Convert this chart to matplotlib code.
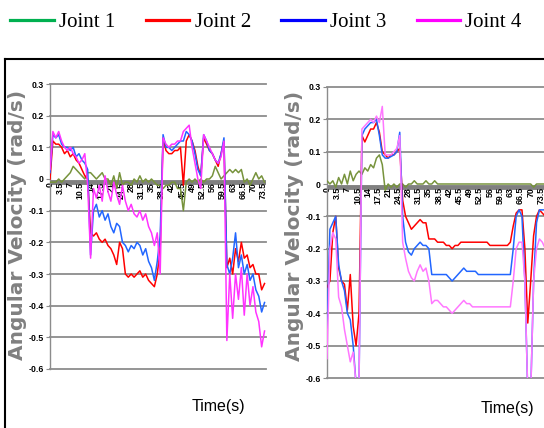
import numpy as np
import matplotlib.pyplot as plt
from matplotlib.lines import Line2D

# ---- data (1 s steps) ----
t_left = np.arange(0, 75)
left_j1 = [-0.01, -0.01, -0.01, 0.0, -0.01, 0.0, 0.01, 0.02, 0.04, 0.03,
           0.02, 0.01, 0.0, 0.02, 0.02, 0.01, 0.0, 0.01, 0.02, 0.0,
           0.0, -0.02, 0.01, -0.03, 0.02, -0.02, -0.01, -0.01, -0.02, 0.0,
           -0.01, 0.01, -0.01, 0.0, -0.01, 0.0, -0.01, -0.02, -0.02, -0.03,
           -0.02, -0.02, -0.01, -0.01, -0.03, -0.03, -0.1, -0.01, 0.0, -0.01,
           0.0, -0.01, 0.0, -0.01, 0.0, 0.0, 0.01, 0.04, 0.02, 0.0,
           0.01, 0.02, 0.03, 0.02, 0.03, 0.02, 0.03, -0.01, 0.0, -0.02,
           0.0, 0.02, 0.0, 0.01, -0.01]
left_j2 = [0.0, 0.12, 0.11, 0.11, 0.1, 0.08, 0.09, 0.07, 0.08, 0.06,
           0.05, 0.03, 0.01, 0.0, -0.17, -0.18, -0.17, -0.19, -0.2, -0.19,
           -0.21, -0.22, -0.24, -0.27, -0.2, -0.22, -0.3, -0.31, -0.3, -0.31,
           -0.3, -0.29, -0.31, -0.3, -0.32, -0.33, -0.34, -0.3, -0.22, 0.13,
           0.09, 0.08, 0.08, 0.09, 0.09, 0.1, -0.02, 0.12, 0.14, 0.12,
           0.09, 0.04, 0.01, 0.13, 0.11, 0.09, 0.08, 0.06, 0.04, 0.08,
           0.12, -0.28, -0.25, -0.3, -0.22, -0.26, -0.2, -0.25, -0.24, -0.28,
           -0.27, -0.3, -0.3, -0.35, -0.33]
left_j3 = [0.02, 0.14, 0.13, 0.14, 0.11, 0.1, 0.1, 0.09, 0.1, 0.07,
           0.08, 0.06, 0.05, 0.03, -0.24, -0.1, -0.08, -0.12, -0.1, -0.13,
           -0.11, -0.15, -0.17, -0.14, -0.15, -0.2, -0.21, -0.23, -0.21, -0.22,
           -0.2, -0.21, -0.24, -0.22, -0.26, -0.28, -0.32, -0.26, -0.18, 0.14,
           0.1, 0.1, 0.09, 0.1, 0.11, 0.12, 0.12, 0.15, 0.14, 0.12,
           0.08, 0.03, 0.01, 0.14, 0.12, 0.09, 0.08, 0.06, 0.05, 0.08,
           0.13, -0.27, -0.3, -0.25, -0.17, -0.28, -0.24, -0.3, -0.27, -0.32,
           -0.3, -0.35, -0.37, -0.42, -0.39]
left_j4 = [0.03, 0.15, 0.13, 0.15, 0.12, 0.1, 0.09, 0.1, 0.08, 0.07,
           0.05, 0.06, 0.08, -0.02, -0.25, -0.03, -0.06, -0.02, -0.07, 0.01,
           -0.04, -0.07, -0.01, -0.05, -0.08, -0.02, -0.07, -0.1, -0.08, -0.11,
           -0.12, -0.1, -0.13, -0.11, -0.15, -0.17, -0.21, -0.17, -0.3, 0.13,
           0.11, 0.1, 0.11, 0.11, 0.12, 0.12, 0.15, 0.16, 0.17, 0.1,
           0.05, 0.0, -0.03, 0.14, 0.12, 0.1, 0.08, 0.06, 0.05, 0.07,
           0.12, -0.51, -0.3, -0.44, -0.3, -0.38, -0.28, -0.43, -0.3, -0.4,
           -0.34, -0.42, -0.45, -0.53, -0.48]

t_right = np.arange(0, 76)
right_j1 = [0.01, 0.0, 0.01, -0.01, 0.02, 0.0, 0.03, 0.0, 0.04, 0.01,
            0.03, 0.04, 0.03, 0.05, 0.04, 0.06, 0.05, 0.08, 0.09, 0.06,
            -0.02, 0.0, -0.01, 0.0, -0.01, 0.0, 0.0, -0.01, 0.0, 0.0,
            0.01, 0.0, 0.0, 0.0, 0.01, 0.0, 0.0, 0.01, 0.0, 0.0,
            0.0, 0.0, 0.0, 0.0, 0.0, 0.0, 0.0, 0.0, 0.0, 0.0,
            0.0, 0.0, 0.0, 0.0, 0.0, 0.0, 0.0, 0.0, 0.0, 0.0,
            0.0, 0.0, 0.0, 0.0, 0.0, 0.0, 0.0, 0.0, 0.0, 0.0,
            0.0, -0.01, 0.0, 0.0, 0.0, 0.0]
right_j2 = [-0.32, -0.3, -0.15, -0.1, -0.26, -0.3, -0.31, -0.39, -0.28, -0.44,
            -0.5, -0.4, 0.15, 0.13, 0.15, 0.17, 0.17, 0.19, 0.16, 0.1,
            0.09, 0.08, 0.09, 0.09, 0.1, 0.11, -0.05, -0.1, -0.12, -0.14,
            -0.13, -0.12, -0.11, -0.12, -0.12, -0.17, -0.17, -0.17, -0.18, -0.18,
            -0.18, -0.19, -0.19, -0.2, -0.19, -0.19, -0.18, -0.18, -0.18, -0.18,
            -0.18, -0.18, -0.18, -0.18, -0.18, -0.18, -0.19, -0.19, -0.19, -0.19,
            -0.19, -0.19, -0.19, -0.18, -0.13, -0.09, -0.08, -0.08, -0.2, -0.43,
            -0.3, -0.16, -0.1, -0.08, -0.09, -0.1]
right_j3 = [-0.45, -0.14, -0.12, -0.1, -0.25, -0.3, -0.33, -0.4, -0.42, -0.5,
            -0.62, -0.62, 0.15, 0.17, 0.18, 0.19, 0.19, 0.2, 0.15, 0.09,
            0.08, 0.08, 0.085, 0.09, 0.1, 0.16, -0.1, -0.18, -0.21, -0.22,
            -0.2, -0.19, -0.18, -0.19, -0.19, -0.2, -0.28, -0.28, -0.28, -0.28,
            -0.28, -0.28, -0.29, -0.3, -0.29, -0.28, -0.27, -0.26, -0.27, -0.27,
            -0.27, -0.27, -0.28, -0.28, -0.28, -0.28, -0.28, -0.28, -0.28, -0.28,
            -0.28, -0.28, -0.28, -0.28, -0.2, -0.1, -0.08, -0.1, -0.3, -0.65,
            -0.65, -0.3, -0.12, -0.08, -0.08, -0.08]
right_j4 = [-0.54, -0.2, -0.15, -0.17, -0.35, -0.38, -0.45, -0.5, -0.55, -0.52,
            -0.62, -0.62, 0.17, 0.18, 0.19, 0.2, 0.19, 0.21, 0.19, 0.24,
            0.09, 0.09, 0.09, 0.1, 0.11, 0.15, -0.18, -0.23, -0.27, -0.29,
            -0.3, -0.27, -0.25, -0.27, -0.26, -0.3, -0.37, -0.36, -0.36, -0.37,
            -0.38, -0.38, -0.39, -0.4, -0.39, -0.38, -0.37, -0.36, -0.37, -0.37,
            -0.38, -0.38, -0.38, -0.38, -0.38, -0.38, -0.38, -0.38, -0.38, -0.38,
            -0.38, -0.38, -0.38, -0.38, -0.3, -0.2, -0.18, -0.18, -0.3, -0.65,
            -0.65, -0.3, -0.2, -0.17, -0.18, -0.2]

y_ticks = [0.3, 0.2, 0.1, 0.0, -0.1, -0.2, -0.3, -0.4, -0.5, -0.6]
y_labels = ['0.3', '0.2', '0.1', '0', '-0.1', '-0.2', '-0.3', '-0.4', '-0.5', '-0.6']
x_ticks = [0, 3.5, 7, 10.5, 14, 17.5, 21, 24.5, 28, 31.5, 35, 38.5,
           42, 45.5, 49, 52.5, 56, 59.5, 63, 66.5, 70, 73.5]
x_labels = ['0', '3.5', '7', '10.5', '14', '17.5', '21', '24.5', '28', '31.5', '35', '38.5',
            '42', '45.5', '49', '52.5', '56', '59.5', '63', '66.5', '70', '73.5']
legend_labels = ['Joint 1', 'Joint 2', 'Joint 3', 'Joint 4']
legend_colors = ['#00b050', '#ff0000', '#0000ff', '#ff00ff']

W, H = 544, 428
narrow = ['Liberation Sans']


def draw_panel(ax, t, series, colors, xmax):
    ax.set_xlim(0, xmax)
    ax.set_ylim(-0.6, 0.3)
    ax.patch.set_alpha(0)
    for yv in y_ticks:
        if yv != 0:
            ax.axhline(yv, color='#8c8c8c', lw=1.3, zorder=1, clip_on=False)
    ax.axhline(-0.008, color='#808080', lw=3.5, zorder=1)
    for v, c in zip(series, colors):
        ax.plot(t, v, color=c, lw=1.1, zorder=3)
    ax.spines['top'].set_visible(False)
    ax.spines['right'].set_visible(False)
    ax.spines['bottom'].set_position(('data', 0))
    ax.spines['bottom'].set_visible(False)
    ax.spines['left'].set_color('#8c8c8c')
    ax.spines['left'].set_linewidth(1.0)
    ax.set_yticks(y_ticks)
    ax.set_yticklabels(y_labels, fontsize=6.3, fontweight='bold', family=narrow)
    ax.set_xticks(x_ticks)
    ax.set_xticklabels(x_labels, rotation=90, fontsize=6.3, fontweight='bold', family=narrow)
    ax.tick_params(axis='x', length=0, pad=2)
    ax.tick_params(axis='y', length=3, color='#8c8c8c', pad=1.5)


fig = plt.figure(figsize=(W / 100, H / 100), dpi=100)

ax1 = fig.add_axes([50 / W, (H - 369) / H, 216 / W, 285 / H])
draw_panel(ax1, t_left, [left_j1, left_j2, left_j3, left_j4],
           ['#77933c', '#ff0000', '#2266ff', '#ff33ff'], 74.5)

ax2 = fig.add_axes([327 / W, (H - 378) / H, 76 * 2.91 / W, 291 / H])
draw_panel(ax2, t_right, [right_j1, right_j2, right_j3, right_j4],
           ['#77933c', '#ff0000', '#2266ff', '#ff77ff'], 76)

# axis titles
for x, y in [(18, 225), (295, 226)]:
    fig.text(x / W, 1 - y / H, 'Angular Velocity (rad/s)', rotation=90, ha='center', va='center',
             fontsize=14.5, fontweight='bold', color='#808080')
for x, y in [(218, 407), (507, 408)]:
    fig.text(x / W, 1 - y / H, 'Time(s)', ha='center', va='center', fontsize=11.5, family=narrow)

# frame around the panels
fig.add_artist(Line2D([5 / W, 1], [1 - 59 / H, 1 - 59 / H], transform=fig.transFigure,
                      color='black', lw=1.5))
fig.add_artist(Line2D([5 / W, 5 / W], [0, 1 - 59 / H], transform=fig.transFigure,
                      color='black', lw=1.5))

handles = [Line2D([], [], color=c, lw=2.3) for c in legend_colors]
fig.legend(handles, legend_labels, loc='center', bbox_to_anchor=(266 / W, 1 - 22 / H), ncol=4,
           frameon=False, prop={'family': 'Liberation Serif', 'size': 15},
           handlelength=2.1, handletextpad=0.25, columnspacing=1.45, borderpad=0)

fig.savefig('out.png', dpi=100)
